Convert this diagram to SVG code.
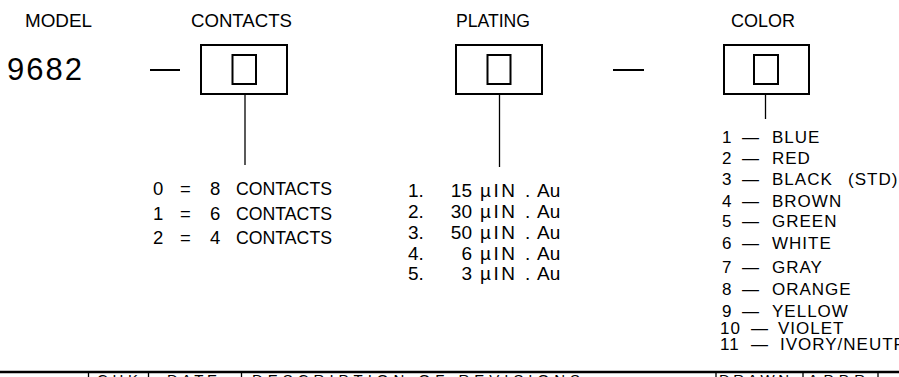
<svg xmlns="http://www.w3.org/2000/svg" width="899" height="377" viewBox="0 0 899 377">
<style>
text{font-family:"Liberation Sans",Arial,sans-serif;fill:#000}
.h{font-size:18px}
.big{font-size:31px}
.c{font-size:18.5px}
.p{font-size:19px}
.mu{letter-spacing:2.5px}
.k{font-size:17px;letter-spacing:1px}
.t{font-size:15px}
.box{fill:#fff;stroke:#000;stroke-width:2}
.ln{stroke:#000;stroke-width:2;fill:none}
.thin{stroke:#000;stroke-width:1.3;fill:none}
</style>
<rect width="899" height="377" fill="#fff"/>
<g id="model">
<text class="h" x="25" y="27" textLength="67" lengthAdjust="spacingAndGlyphs">MODEL</text>
<text class="big" x="7" y="80" textLength="75" lengthAdjust="spacing">9682</text>
</g>
<g id="contacts">
<text class="h" x="191" y="27" textLength="101" lengthAdjust="spacingAndGlyphs">CONTACTS</text>
<rect class="box" x="201" y="45" width="86" height="49"/>
<rect class="box" x="232.5" y="55" width="23.5" height="29"/>
<g class="c">
<text x="153" y="195">0</text><text x="180" y="195">=</text><text x="210" y="195">8</text><text x="236" y="195" textLength="96" lengthAdjust="spacingAndGlyphs">CONTACTS</text>
<text x="153" y="219.5">1</text><text x="180" y="219.5">=</text><text x="210" y="219.5">6</text><text x="236" y="219.5" textLength="96" lengthAdjust="spacingAndGlyphs">CONTACTS</text>
<text x="153" y="243.5">2</text><text x="180" y="243.5">=</text><text x="210" y="243.5">4</text><text x="236" y="243.5" textLength="96" lengthAdjust="spacingAndGlyphs">CONTACTS</text>
</g>
</g>
<g id="plating">
<text class="h" x="456" y="27" textLength="74" lengthAdjust="spacingAndGlyphs">PLATING</text>
<rect class="box" x="456" y="45" width="86" height="49"/>
<rect class="box" x="487.5" y="55" width="23" height="29"/>
<g class="p">
<text x="408" y="197">1.</text><text x="472" y="197" text-anchor="end">15</text><text class="mu" x="480" y="197">µIN</text><text x="525" y="197">.</text><text x="537" y="197">Au</text>
<text x="408" y="218">2.</text><text x="472" y="218" text-anchor="end">30</text><text class="mu" x="480" y="218">µIN</text><text x="525" y="218">.</text><text x="537" y="218">Au</text>
<text x="408" y="239">3.</text><text x="472" y="239" text-anchor="end">50</text><text class="mu" x="480" y="239">µIN</text><text x="525" y="239">.</text><text x="537" y="239">Au</text>
<text x="408" y="259.5">4.</text><text x="472" y="259.5" text-anchor="end">6</text><text class="mu" x="480" y="259.5">µIN</text><text x="525" y="259.5">.</text><text x="537" y="259.5">Au</text>
<text x="408" y="280">5.</text><text x="472" y="280" text-anchor="end">3</text><text class="mu" x="480" y="280">µIN</text><text x="525" y="280">.</text><text x="537" y="280">Au</text>
</g>
</g>
<g id="color">
<text class="h" x="731" y="27" textLength="64" lengthAdjust="spacingAndGlyphs">COLOR</text>
<rect class="box" x="724" y="45" width="85" height="49"/>
<rect class="box" x="754" y="55" width="24" height="29"/>
<g class="k">
<text x="722" y="143">1</text><text x="742" y="143">—</text><text x="772" y="143">BLUE</text>
<text x="722" y="163.5">2</text><text x="742" y="163.5">—</text><text x="772" y="163.5">RED</text>
<text x="722" y="185">3</text><text x="742" y="185">—</text><text x="772" y="185">BLACK</text><text x="848" y="185">(STD)</text>
<text x="722" y="206.5">4</text><text x="742" y="206.5">—</text><text x="772" y="206.5">BROWN</text>
<text x="722" y="227">5</text><text x="742" y="227">—</text><text x="772" y="227">GREEN</text>
<text x="722" y="248.5">6</text><text x="742" y="248.5">—</text><text x="772" y="248.5">WHITE</text>
<text x="722" y="273">7</text><text x="742" y="273">—</text><text x="772" y="273">GRAY</text>
<text x="722" y="295">8</text><text x="742" y="295">—</text><text x="772" y="295">ORANGE</text>
<text x="722" y="316.5">9</text><text x="742" y="316.5">—</text><text x="772" y="316.5">YELLOW</text>
<text x="720" y="333.5">10</text><text x="751" y="333.5">—</text><text x="778" y="333.5">VIOLET</text>
<text x="720" y="350">11</text><text x="751" y="350">—</text><text x="780" y="350">IVORY/NEUTRAL</text>
</g>
</g>
<g id="connectors">
<line class="ln" x1="150" y1="70" x2="180" y2="70"/>
<line class="ln" x1="613" y1="70" x2="644" y2="70"/>
<line class="thin" x1="245" y1="94" x2="245" y2="165"/>
<line class="thin" x1="499.5" y1="94" x2="499.5" y2="167"/>
<line class="thin" x1="765.5" y1="94" x2="765.5" y2="119"/>
</g>
<g id="revision-block">
<line x1="0" y1="372" x2="899" y2="372" stroke="#000" stroke-width="2.5"/>
<g class="thin">
<line x1="88.5" y1="372" x2="88.5" y2="377"/>
<line x1="148.5" y1="372" x2="148.5" y2="377"/>
<line x1="241.5" y1="372" x2="241.5" y2="377"/>
<line x1="716" y1="372" x2="716" y2="377"/>
<line x1="803" y1="372" x2="803" y2="377"/>
<line x1="878" y1="372" x2="878" y2="377"/>
</g>
<g class="t">
<text x="97" y="385" textLength="41" lengthAdjust="spacing">CHK</text>
<text x="167" y="385" textLength="50" lengthAdjust="spacing">DATE</text>
<text x="252" y="385" textLength="328" lengthAdjust="spacing">DESCRIPTION OF REVISIONS</text>
<text x="719" y="385" textLength="70" lengthAdjust="spacing">DRAWN</text>
<text x="808" y="385" textLength="57" lengthAdjust="spacing">APPR</text>
</g>
</g>
</svg>
